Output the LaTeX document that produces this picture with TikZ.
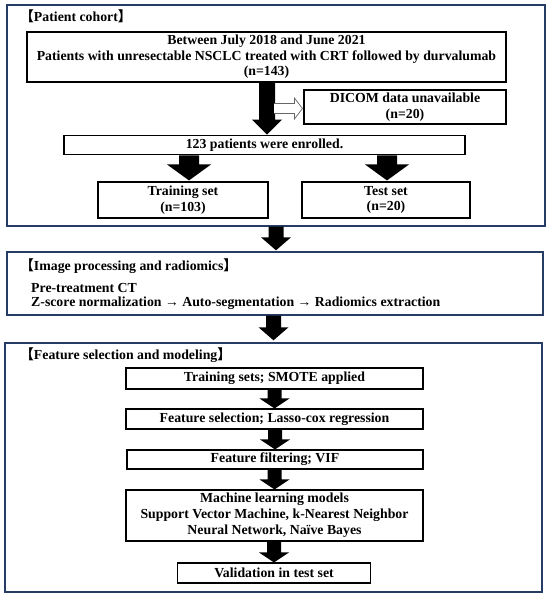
\documentclass[tikz,border=0pt]{standalone}
\usepackage{fontspec}
\setmainfont{Liberation Serif}
\newfontfamily\cjkfont{Noto Sans CJK JP}
\usetikzlibrary{calc}
\definecolor{panelblue}{RGB}{38,60,100}
\newcommand{\lbr}{{\cjkfont\bfseries 【}}
\newcommand{\rbr}{{\cjkfont\bfseries 】}}
% block arrow: start, end, shaft half width, head half width, head length
\newcommand{\blockarrow}[5]{\fill let \p1=(#1), \p2=(#2) in (\x2-#3,\y1) -- (\x2+#3,\y1) -- (\x2+#3,\y2+#5) -- (\x2+#4,\y2+#5) -- (\x2,\y2) -- (\x2-#4,\y2+#5) -- (\x2-#3,\y2+#5) -- cycle;}
\begin{document}
\begin{tikzpicture}[x=1pt,y=-1pt,
  panel/.style={draw=panelblue, line width=1.4pt, fill=none},
  stepbox/.style={draw=black, line width=1.1pt, align=center, inner sep=0pt, font=\bfseries\fontsize{13.8}{15.5}\selectfont},
  ttl/.style={anchor=west, inner sep=0pt, font=\bfseries\fontsize{13.8}{15}\selectfont},
  txt/.style={anchor=west, inner sep=0pt, font=\bfseries\fontsize{13.8}{15}\selectfont}
]
\useasboundingbox (0,0) rectangle (550,598);
% panels
\node[panel, minimum width=538pt, minimum height=221pt, inner sep=0pt] (p1) at (276,115.5) {};
\node[panel, minimum width=536pt, minimum height=63pt, inner sep=0pt] (p2) at (275,283.5) {};
\node[panel, minimum width=537pt, minimum height=249pt, inner sep=0pt] (p3) at (273.5,467.5) {};
% panel 1
\node[ttl] (t1) at (20,16) {\lbr Patient cohort\rbr};
\node[stepbox, minimum width=479pt, minimum height=50pt] (b1) at (266.5,57) {Between July 2018 and June 2021\\Patients with unresectable NSCLC treated with CRT followed by durvalumab\\(n=143)};
\node[stepbox, minimum width=202pt, minimum height=34pt] (dicom) at (405,107) {DICOM data unavailable\\(n=20)};
\node[stepbox, minimum width=401pt, minimum height=19.5pt] (enr) at (264.5,145) {123 patients were enrolled.};
\node[stepbox, minimum width=170pt, minimum height=36pt] (train) at (183,200) {Training set\\(n=103)};
\node[stepbox, minimum width=168pt, minimum height=36pt] (test) at (386,200) {Test set\\(n=20)};
\coordinate (b1arr) at ($(b1.south)+(0.5,0)$);
\coordinate (enrtop) at (enr.north -| b1arr);
\blockarrow{b1arr}{enrtop}{8pt}{15pt}{15pt}
\coordinate (hs) at (274,108.5);
\draw[draw=black!60, line width=0.7pt, fill=white] let \p1=(hs), \p2=(dicom.west) in
  (\x1,\y1+5pt) -- (\x2-9pt,\y1+5pt) -- (\x2-9pt,\y1+10.5pt) -- (\x2-1pt,\y1) -- (\x2-9pt,\y1-10.5pt) -- (\x2-9pt,\y1-5pt) -- (\x1,\y1-5pt);
\coordinate (trtop) at ($(train.north)+(6,-1)$);
\coordinate (tetop) at ($(test.north)+(1,-1)$);
\blockarrow{enr.south}{trtop}{10pt}{22pt}{16pt}
\blockarrow{enr.south}{tetop}{10pt}{22pt}{16pt}
% panel 2
\coordinate (p2top) at ($(p2.north)+(1,-1)$);
\blockarrow{p1.south}{p2top}{7.5pt}{15pt}{13pt}
\node[ttl] at (20,266) {\lbr Image processing and radiomics\rbr};
\node[txt] (l1) at (31,287.5) {Pre-treatment CT};
\node[txt] (l2) at (31,303) {Z-score normalization → Auto-segmentation → Radiomics extraction};
% panel 3
\coordinate (p3top) at ($(p3.north)+(0,-2)$);
\blockarrow{p2.south}{p3top}{7.5pt}{15pt}{13pt}
\node[ttl] at (20,355) {\lbr Feature selection and modeling\rbr};
\node[stepbox, minimum width=297pt, minimum height=21pt] (sA) at (274.5,378.5) {Training sets; SMOTE applied};
\node[stepbox, minimum width=297pt, minimum height=20pt] (sB) at (274.5,419) {Feature selection; Lasso-cox regression};
\node[stepbox, minimum width=296pt, minimum height=19pt] (sC) at (275,459.5) {Feature filtering; VIF};
\node[stepbox, minimum width=297pt, minimum height=51pt, font=\bfseries\fontsize{13.8}{16}\selectfont] (sD) at (274.5,515.5) {Machine learning models\\Support Vector Machine, k-Nearest Neighbor\\Neural Network, Naïve Bayes};
\node[stepbox, minimum width=192.5pt, minimum height=20pt] (sE) at (274,573) {Validation in test set};
\blockarrow{sA.south}{sB.north}{7pt}{15pt}{10pt}
\blockarrow{sB.south}{sC.north}{7pt}{15pt}{10pt}
\blockarrow{sC.south}{sD.north}{7pt}{15pt}{10pt}
\blockarrow{sD.south}{sE.north}{7pt}{15pt}{10pt}
\end{tikzpicture}
\end{document}
